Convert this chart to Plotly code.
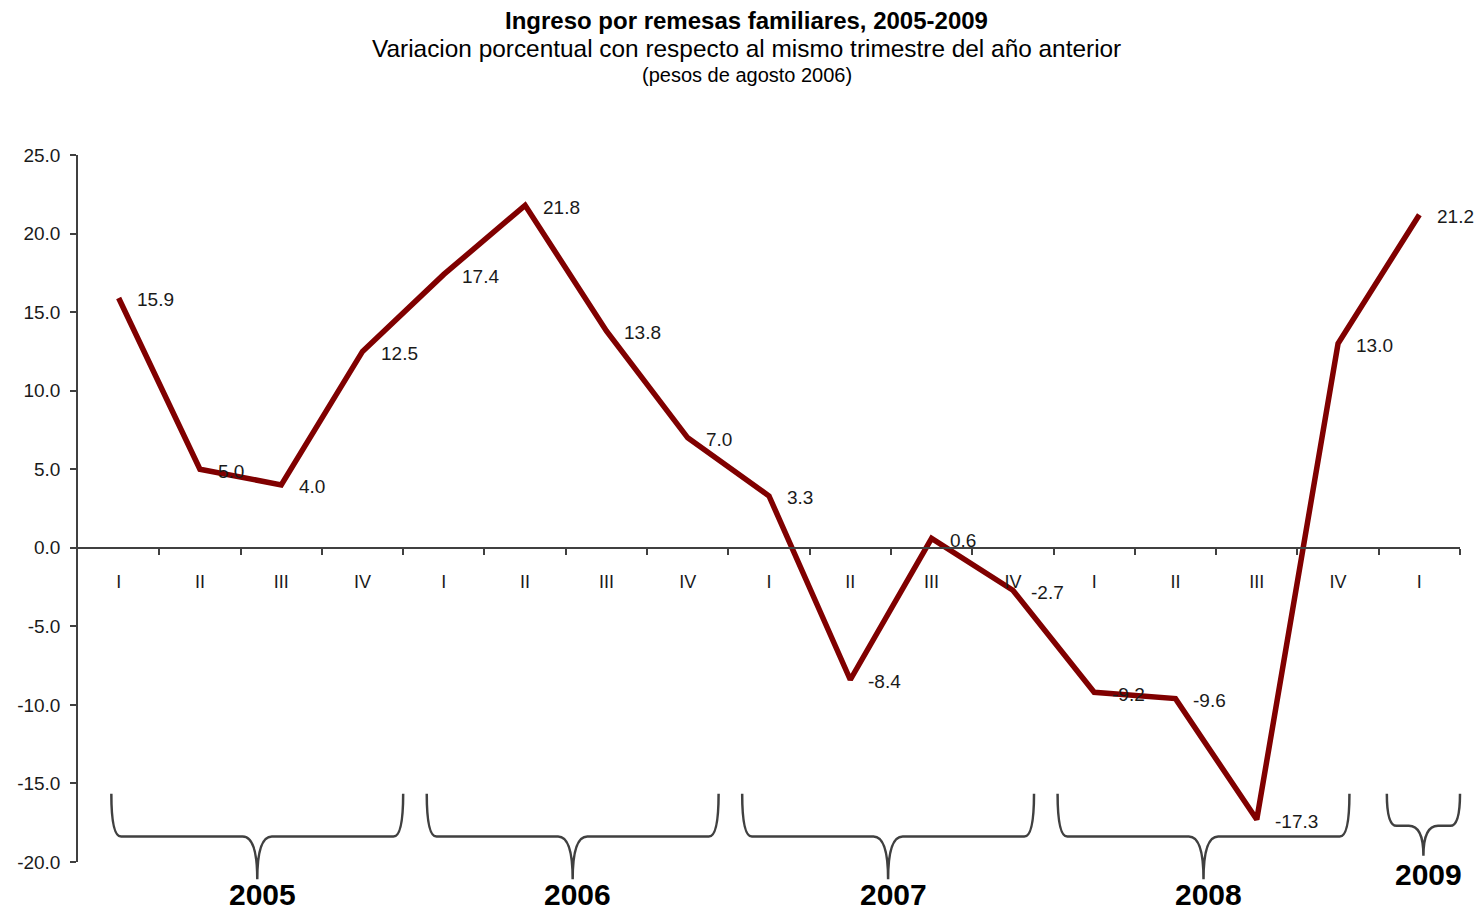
import plotly.graph_objects as go

# ---- data ----
quarters = ["I", "II", "III", "IV", "I", "II", "III", "IV", "I", "II", "III", "IV",
            "I", "II", "III", "IV", "I"]
values = [15.9, 5.0, 4.0, 12.5, 17.4, 21.8, 13.8, 7.0, 3.3, -8.4, 0.6, -2.7,
          -9.2, -9.6, -17.3, 13.0, 21.2]
years = ["2005", "2006", "2007", "2008", "2009"]
year_quarters = [4, 4, 4, 4, 1]
y_ticks = [25, 20, 15, 10, 5, 0, -5, -10, -15, -20]

title1 = "Ingreso por remesas familiares, 2005-2009"
title2 = "Variacion porcentual con respecto al mismo trimestre del año anterior"
title3 = "(pesos de agosto 2006)"

FONT = "Liberation Sans, Arial, sans-serif"
LINE_RED = "#800000"
AX = "#404040"
TXT = "#1a1a1a"

YMIN, YMAX = -20, 25
XMIN, XMAX = -0.5, len(values) - 0.5

xs = list(range(len(values)))

fig = go.Figure()
fig.add_trace(go.Scatter(x=xs, y=values, mode="lines",
                         line=dict(color=LINE_RED, width=5.5),
                         hoverinfo="skip", showlegend=False))


def px_x(i):
    return (i - XMIN) / (XMAX - XMIN)


def py(v):
    return (v - YMIN) / (YMAX - YMIN)


annotations = []
for i, v in enumerate(values):
    annotations.append(dict(x=i, y=v, xref="x", yref="y", text=f"{v:.1f}",
                            showarrow=False, xanchor="left", yanchor="middle",
                            xshift=16, yshift=-2,
                            font=dict(family=FONT, size=19, color=TXT)))

# titles
TX = 0.484
annotations += [
    dict(x=TX, y=1.0, xref="paper", yref="paper", yshift=135, text=f"<b>{title1}</b>",
         showarrow=False, xanchor="center", yanchor="middle",
         font=dict(family=FONT, size=24, color="#000000")),
    dict(x=TX, y=1.0, xref="paper", yref="paper", yshift=107, text=title2,
         showarrow=False, xanchor="center", yanchor="middle",
         font=dict(family=FONT, size=24.4, color="#000000")),
    dict(x=TX, y=1.0, xref="paper", yref="paper", yshift=80, text=title3,
         showarrow=False, xanchor="center", yanchor="middle",
         font=dict(family=FONT, size=20, color="#000000")),
]

# braces under year groups
shapes = []
start = 0
for k, (yr, nq) in enumerate(zip(years, year_quarters)):
    if nq == 4:
        L = start - 0.09 - 0.12 * k
        R = L + 3.59
        yT, yM, yB = -15.65, -18.38, -21.1
        ylab = -0.046
    else:
        L = start - 0.4
        R = start + 0.5
        yT, yM, yB = -15.65, -17.7, -19.6
        ylab = -0.017
    C = (L + R) / 2
    rx = 0.12
    cx = 0.18
    pts = [
        f"M {px_x(L):.5f},{py(yT):.5f}",
        f"Q {px_x(L):.5f},{py(yM):.5f} {px_x(L + rx):.5f},{py(yM):.5f}",
        f"L {px_x(C - cx):.5f},{py(yM):.5f}",
        f"Q {px_x(C):.5f},{py(yM):.5f} {px_x(C):.5f},{py(yB):.5f}",
        f"M {px_x(C):.5f},{py(yB):.5f}",
        f"Q {px_x(C):.5f},{py(yM):.5f} {px_x(C + cx):.5f},{py(yM):.5f}",
        f"L {px_x(R - rx):.5f},{py(yM):.5f}",
        f"Q {px_x(R):.5f},{py(yM):.5f} {px_x(R):.5f},{py(yT):.5f}",
    ]
    shapes.append(dict(type="path", xref="paper", yref="paper", path=" ".join(pts),
                       line=dict(color=AX, width=2.5)))
    annotations.append(dict(x=px_x(C) + 0.0036, y=ylab, xref="paper", yref="paper",
                            text=f"<b>{yr}</b>", showarrow=False,
                            xanchor="center", yanchor="middle",
                            font=dict(family=FONT, size=30, color="#000000")))
    start += nq

fig.update_layout(
    width=1474, height=913,
    margin=dict(l=78, r=14, t=155, b=51),
    paper_bgcolor="white", plot_bgcolor="white",
    showlegend=False,
    annotations=annotations,
    shapes=shapes,
    xaxis=dict(range=[XMIN, XMAX], anchor="free", position=py(0),
               showline=True, linecolor=AX, linewidth=1.5,
               showgrid=False, zeroline=False,
               tickmode="array", tickvals=xs, ticktext=quarters, ticks="",
               ticklabelstandoff=18,
               tickfont=dict(family=FONT, size=18, color=TXT),
               minor=dict(tickmode="array", tickvals=[i + 0.5 for i in xs],
                          ticks="outside", ticklen=6, tickcolor=AX, tickwidth=1.5),
               fixedrange=True),
    yaxis=dict(range=[YMIN, YMAX], showline=True, linecolor=AX, linewidth=1.5,
               showgrid=False, zeroline=False,
               tickmode="array", tickvals=y_ticks,
               ticktext=[f"{v:.1f}" for v in y_ticks],
               ticks="outside", ticklen=6, tickcolor=AX, tickwidth=1.5,
               ticklabelstandoff=6,
               tickfont=dict(family=FONT, size=19, color=TXT),
               fixedrange=True),
)

fig.write_html("out.html", config={"displayModeBar": False},
               post_script="document.body.style.margin='0';")
